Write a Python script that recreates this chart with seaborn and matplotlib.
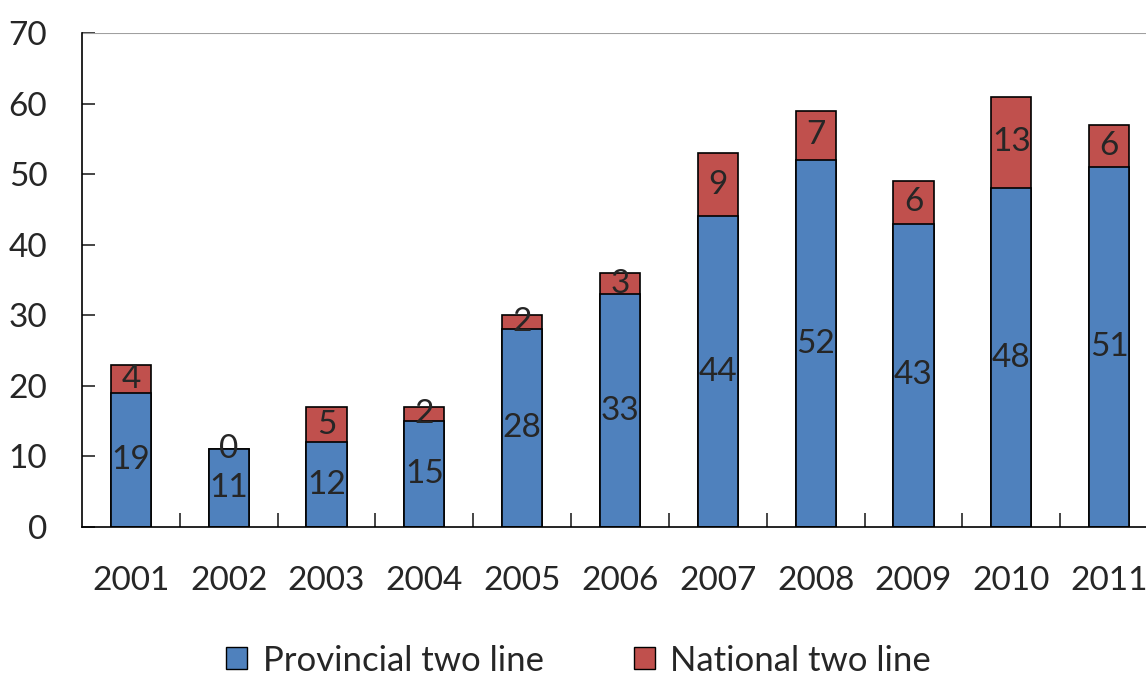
import matplotlib
matplotlib.use('Agg')
import matplotlib.pyplot as plt
import pandas as pd
import seaborn as sns
from matplotlib.patches import Patch

years = ['2001', '2002', '2003', '2004', '2005', '2006', '2007', '2008', '2009', '2010', '2011']
provincial = [19, 11, 12, 15, 28, 33, 44, 52, 43, 48, 51]
national = [4, 0, 5, 2, 2, 3, 9, 7, 6, 13, 6]

BLUE = '#4F81BD'
RED = '#C0504D'

sns.set_style('white')
plt.rcParams['font.family'] = ['Lato', 'DejaVu Sans']
plt.rcParams['font.size'] = 24

df = pd.DataFrame({'year': years, 'provincial': provincial, 'national': national})
df['total'] = df['provincial'] + df['national']

fig = plt.figure(figsize=(11.46, 6.84), dpi=100)
ax = fig.add_axes([82 / 1146, 1 - 527 / 684, 1076 / 1146, 494 / 684])

sns.barplot(data=df, x='year', y='total', color=RED, saturation=1, width=0.41,
            edgecolor='black', linewidth=1.2, ax=ax)
sns.barplot(data=df, x='year', y='provincial', color=BLUE, saturation=1, width=0.41,
            edgecolor='black', linewidth=1.2, ax=ax)

for i, row in df.iterrows():
    ax.text(i, row['provincial'] / 2, str(row['provincial']), ha='center', va='center', fontsize=24)
    ax.text(i, row['provincial'] + row['national'] / 2, str(row['national']),
            ha='center', va='center', fontsize=24)

ax.set_xlim(-0.5, len(years) - 0.5)
ax.set_ylim(0, 70)
ax.set_yticks(range(0, 71, 10))
ax.set_xlabel('')
ax.set_ylabel('')
ax.axhline(70, color='#A0A0A0', linewidth=1.5)

ax.spines['right'].set_visible(False)
ax.spines['top'].set_visible(False)
ax.spines['left'].set_color('black')
ax.spines['bottom'].set_color('black')
ax.spines['left'].set_linewidth(1.2)
ax.spines['bottom'].set_linewidth(1.2)

ax.tick_params(axis='y', direction='in', length=9, width=1.2, pad=25, labelsize=24, left=True)
ax.tick_params(axis='x', which='major', length=0, pad=28, labelsize=24)
ax.set_xticks([i + 0.5 for i in range(len(years) - 1)], minor=True)
ax.tick_params(axis='x', which='minor', direction='in', length=10, width=1.2, bottom=True)

handles = [Patch(facecolor=BLUE, edgecolor='black', label='Provincial two line'),
           Patch(facecolor=RED, edgecolor='black', label='National two line')]
fig.legend(handles=handles, loc='lower center', bbox_to_anchor=(0.505, -0.035), ncol=2,
           frameon=False, fontsize=25, handlelength=0.6, handleheight=0.6,
           handletextpad=0.45, columnspacing=2.6)

fig.savefig('out.png', dpi=100)
